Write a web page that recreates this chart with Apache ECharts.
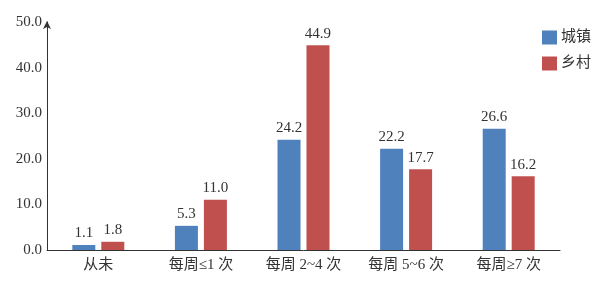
<!DOCTYPE html>
<html><head><meta charset="utf-8">
<script src="https://cdn.jsdelivr.net/npm/echarts@6/dist/echarts.min.js"></script>
<style>html,body{margin:0;padding:0;background:#fff}#c{width:596px;height:281px}</style>
</head><body><div id="c"></div>
<script>
const categories = ['从未', '每周≤1 次', '每周 2~4 次', '每周 5~6 次', '每周≥7 次'];
const urban = [1.1, 5.3, 24.2, 22.2, 26.6];
const rural = [1.8, 11.0, 44.9, 17.7, 16.2];
const seriesNames = ['城镇', '乡村'];
const font = '"Liberation Serif", "Noto Sans CJK SC", serif';
const chart = echarts.init(document.getElementById('c'));
const lbl = {show: true, position: 'top', distance: 4, color: '#333', fontSize: 15, fontFamily: font, formatter: p => p.value.toFixed(1)};
chart.setOption({
  animation: false,
  textStyle: {fontFamily: font},
  grid: {left: 47, right: 36, top: 22, bottom: 31},
  legend: {
    orient: 'vertical', left: 537, top: 25, itemWidth: 15, itemHeight: 14, itemGap: 11, icon: 'rect',
    textStyle: {fontSize: 15, color: '#333', fontFamily: font, padding: [0, 0, 0, -1]},
    data: seriesNames
  },
  xAxis: {
    type: 'category', data: categories,
    axisLine: {lineStyle: {color: '#333', width: 1}},
    axisTick: {show: false},
    axisLabel: {color: '#333', fontSize: 15, fontFamily: font, margin: 8}
  },
  yAxis: {
    type: 'value', min: 0, max: 50, interval: 10,
    splitLine: {show: false},
    axisLine: {show: true, symbol: ['none', 'arrow'], symbolSize: [6, 8], symbolOffset: [0, 1], lineStyle: {color: '#333', width: 1}},
    axisTick: {show: false},
    axisLabel: {color: '#333', fontSize: 15, fontFamily: font, margin: 5, formatter: v => v.toFixed(1)}
  },
  series: [
    {name: seriesNames[0], type: 'bar', data: urban, barWidth: 23, barGap: '26%', itemStyle: {color: '#4F81BD'}, label: lbl},
    {name: seriesNames[1], type: 'bar', data: rural, barWidth: 23, itemStyle: {color: '#C0504D'}, label: lbl}
  ]
});
</script></body></html>
